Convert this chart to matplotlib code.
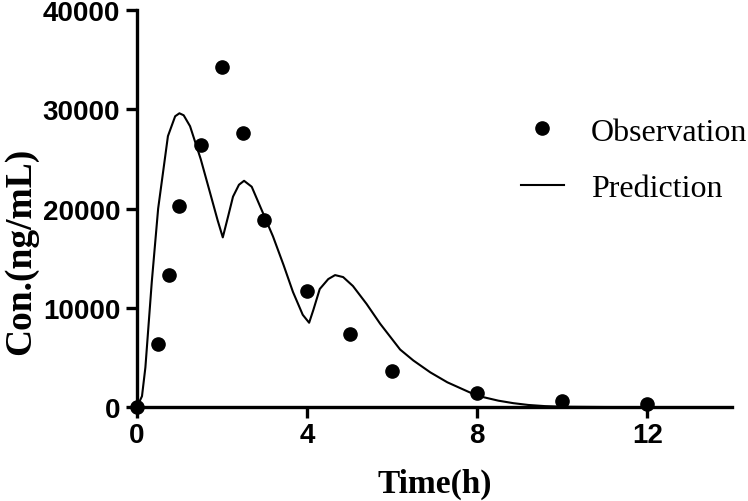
import matplotlib.pyplot as plt

# observed concentrations
obs_time = [0, 0.5, 0.75, 1, 1.5, 2, 2.5, 3, 4, 5, 6, 8, 10, 12]
obs_conc = [0, 6400, 13300, 20300, 26400, 34300, 27600, 18900, 11700, 7400, 3600, 1400, 650, 350]

# model prediction
pred_time = [0, 0.12, 0.2, 0.35, 0.5, 0.73, 0.9, 1.0, 1.1, 1.25, 1.5, 1.72, 1.9, 2.02,
             2.15, 2.26, 2.4, 2.52, 2.7, 2.96, 3.2, 3.45, 3.67, 3.9, 4.05, 4.15, 4.3,
             4.5, 4.66, 4.85, 5.08, 5.4, 5.72, 6.19, 6.5, 6.9, 7.3, 8.0, 8.5, 8.85,
             9.2, 9.6, 10.0, 11.0, 12.0]
pred_conc = [0, 1100, 4000, 12600, 20000, 27300, 29300, 29600, 29400, 28300, 25000, 21600,
             18800, 17100, 19300, 21200, 22400, 22800, 22200, 19600, 17200, 14300, 11600,
             9300, 8500, 9800, 11900, 12900, 13300, 13100, 12200, 10400, 8400, 5800, 4700,
             3500, 2500, 1150, 650, 400, 220, 100, 40, 10, 0]

plt.rcParams['font.family'] = ['Liberation Sans', 'DejaVu Sans']

fig = plt.figure(figsize=(7.48, 5.02), dpi=100)
ax = fig.add_axes([0.183, 0.187, 0.796, 0.791])

ax.plot(pred_time, pred_conc, color='black', linewidth=1.5, label='Prediction', zorder=2)
ax.plot(obs_time, obs_conc, 'o', color='black', markersize=9.5, label='Observation',
        clip_on=False, zorder=3)

ax.set_xlim(0, 14)
ax.set_ylim(0, 40000)
ax.set_xticks([0, 4, 8, 12])
ax.set_yticks([0, 10000, 20000, 30000, 40000])

for s in ['top', 'right']:
    ax.spines[s].set_visible(False)
for s in ['left', 'bottom']:
    ax.spines[s].set_linewidth(2.4)

ax.tick_params(axis='both', direction='out', length=8, width=2.4, labelsize=20)
ax.tick_params(axis='x', pad=3)
ax.tick_params(axis='y', pad=4)
for lbl in ax.get_xticklabels() + ax.get_yticklabels():
    lbl.set_fontweight('bold')

ax.set_xlabel('Time(h)', fontfamily='Liberation Serif', fontweight='bold', fontsize=24, labelpad=14)
ax.set_ylabel('Con.(ng/mL)', fontfamily='Liberation Serif', fontweight='bold', fontsize=27)
ax.yaxis.set_label_coords(-0.166, 0.395)

handles, labels = ax.get_legend_handles_labels()
leg = ax.legend(handles[::-1], labels[::-1], loc='upper left', bbox_to_anchor=(0.645, 0.73),
                frameon=False, borderpad=0, borderaxespad=0, handlelength=1.35,
                handletextpad=0.85, labelspacing=0.84,
                prop={'family': 'Liberation Serif', 'size': 23})

fig.savefig('out.png', dpi=100)
